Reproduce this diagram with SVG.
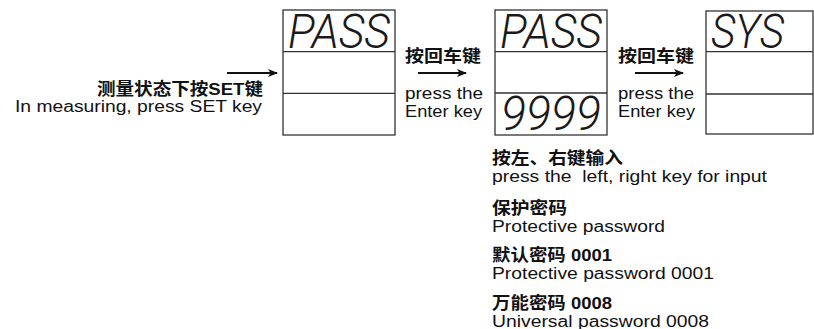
<svg xmlns="http://www.w3.org/2000/svg" width="814" height="329" viewBox="0 0 814 329">
<style>
.box{fill:#fff;stroke:#333;stroke-width:1.3}
.row{stroke:#333;stroke-width:1.3}
.cn{font-family:"Liberation Sans","Noto Sans CJK SC",sans-serif;font-weight:bold;font-size:17px;fill:#111}
.en{font-family:"Liberation Sans","Noto Sans CJK SC",sans-serif;font-size:16px;fill:#111}
.seg{font-family:"Roboto","DejaVu Sans",sans-serif;font-style:italic;font-weight:300;font-size:48px;fill:#1a1a1a}
.arr{stroke:#111;stroke-width:2;fill:none;marker-end:url(#ah)}
</style>
<defs>
<marker id="ah" viewBox="0 0 10 8" refX="9" refY="4" markerWidth="5" markerHeight="4" orient="auto" markerUnits="strokeWidth">
<path d="M0,0 L10,4 L0,8 L2.5,4 Z" fill="#111"/>
</marker>
</defs>
<rect width="814" height="329" fill="#fff"/>
<g id="start-label">
<text class="cn" x="97" y="95" textLength="166" lengthAdjust="spacingAndGlyphs">测量状态下按SET键</text>
<text class="en" x="15" y="112" textLength="247" lengthAdjust="spacingAndGlyphs">In measuring, press SET key</text>
</g>
<g id="display1">
<rect class="box" x="283" y="10" width="112" height="125"/>
<line class="row" x1="283" y1="51.7" x2="395" y2="51.7"/>
<line class="row" x1="283" y1="93.3" x2="395" y2="93.3"/>
<text class="seg" x="288" y="48" textLength="102" lengthAdjust="spacingAndGlyphs">PASS</text>
</g>
<g id="display2">
<rect class="box" x="495" y="10" width="112" height="125"/>
<line class="row" x1="495" y1="51.7" x2="607" y2="51.7"/>
<line class="row" x1="495" y1="93" x2="607" y2="93"/>
<text class="seg" x="500" y="48" textLength="102" lengthAdjust="spacingAndGlyphs">PASS</text>
<text class="seg" x="501" y="130" textLength="100" lengthAdjust="spacingAndGlyphs">9999</text>
</g>
<g id="display3">
<rect class="box" x="706" y="11" width="107" height="123"/>
<line class="row" x1="706" y1="51.7" x2="813" y2="51.7"/>
<line class="row" x1="706" y1="94" x2="813" y2="94"/>
<text class="seg" x="711" y="48" textLength="73" lengthAdjust="spacingAndGlyphs">SYS</text>
</g>
<g id="step1-label">
<text class="cn" x="405" y="62" textLength="76" lengthAdjust="spacingAndGlyphs">按回车键</text>
<text class="en" x="405" y="99" textLength="78" lengthAdjust="spacingAndGlyphs">press the</text>
<text class="en" x="405" y="116.5" textLength="77" lengthAdjust="spacingAndGlyphs">Enter key</text>
</g>
<g id="step2-label">
<text class="cn" x="618" y="62" textLength="76" lengthAdjust="spacingAndGlyphs">按回车键</text>
<text class="en" x="618" y="99" textLength="76" lengthAdjust="spacingAndGlyphs">press the</text>
<text class="en" x="618" y="116.5" textLength="77" lengthAdjust="spacingAndGlyphs">Enter key</text>
</g>
<g id="notes">
<text class="cn" x="492" y="163.5" textLength="131" lengthAdjust="spacingAndGlyphs">按左、右键输入</text>
<text class="en" x="492" y="182" xml:space="preserve" textLength="275" lengthAdjust="spacingAndGlyphs">press the  left, right key for input</text>
<text class="cn" x="492" y="213.5" textLength="75" lengthAdjust="spacingAndGlyphs">保护密码</text>
<text class="en" x="492" y="232" textLength="173" lengthAdjust="spacingAndGlyphs">Protective password</text>
<text class="cn" x="492" y="260.5" textLength="120" lengthAdjust="spacingAndGlyphs">默认密码 0001</text>
<text class="en" x="492" y="279" textLength="222" lengthAdjust="spacingAndGlyphs">Protective password 0001</text>
<text class="cn" x="492" y="308.5" textLength="120" lengthAdjust="spacingAndGlyphs">万能密码 0008</text>
<text class="en" x="492" y="326.5" textLength="217" lengthAdjust="spacingAndGlyphs">Universal password 0008</text>
</g>
<g id="connectors">
<line class="arr" x1="227" y1="73" x2="277" y2="73"/>
<line class="arr" x1="418" y1="73" x2="466" y2="73"/>
<line class="arr" x1="635" y1="73" x2="683" y2="73"/>
</g>
</svg>
